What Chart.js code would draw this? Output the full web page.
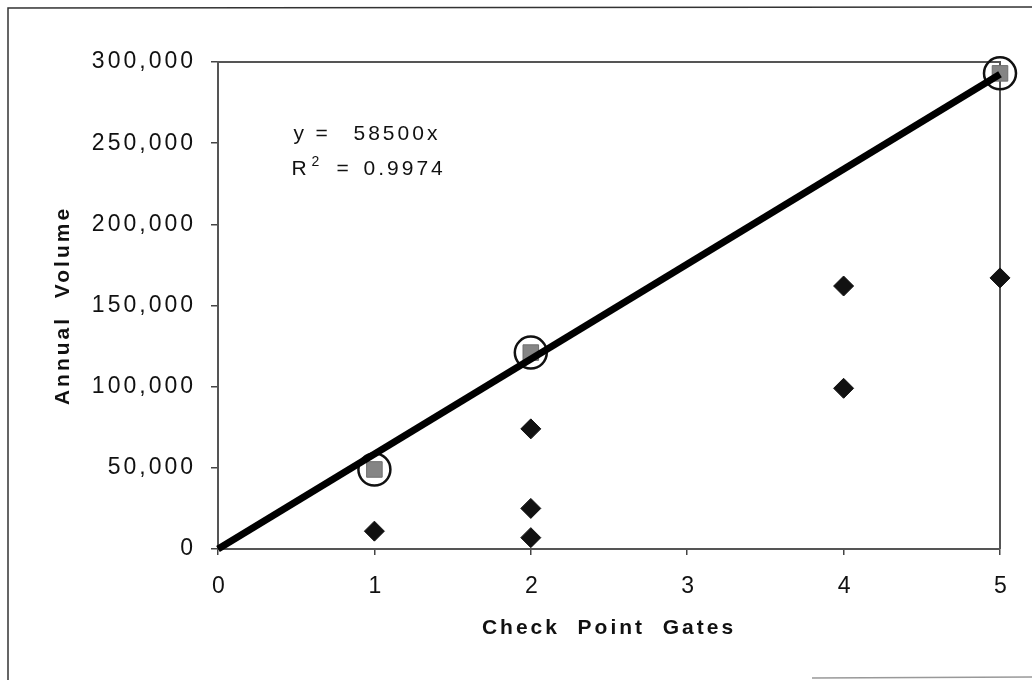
<!DOCTYPE html>
<html lang="en">
<head>
<meta charset="UTF-8">
<title>Annual Volume vs Check Point Gates</title>
<script src="https://cdn.jsdelivr.net/npm/chart.js"></script>
<style>
  html, body { margin: 0; padding: 0; background: #fff; }
  .chart-box { width: 1032px; height: 680px; position: relative; }
</style>
</head>
<body>
<div class="chart-box"><canvas id="gatesChart"></canvas></div>
<script>
// observed sites
const gates = [1, 2, 2, 2, 4, 4, 5];
const volumes = [11000, 74000, 25000, 7000, 162000, 99000, 167000];

// sites used for the fit (circled)
const fitGates = [1, 2, 5];
const fitVolumes = [49000, 121000, 293000];

// trend line y = 58500x
const trendGates = [0, 5];
const trendVolumes = [0, 292500];

const yTickValues = [0, 50000, 100000, 150000, 200000, 250000, 300000];
const yTickLabels = ['0', '50,000', '100,000', '150,000', '200,000', '250,000', '300,000'];

const FONT = '"Liberation Sans", Arial, Helvetica, sans-serif';
const ink = '#111';

const toPoints = (xs, ys) => xs.map((x, i) => ({ x: x, y: ys[i] }));

// border, outer frame, letter spacing and the equation text
const scanPlugin = {
    id: 'scanPlugin',
    beforeDraw(chart) {
        chart.ctx.letterSpacing = '3px';
    },
    beforeDatasetsDraw(chart) {
        const { ctx, chartArea: a } = chart;
        ctx.save();
        ctx.strokeStyle = '#555';
        ctx.lineWidth = 2;
        ctx.beginPath();
        ctx.moveTo(a.left, a.top);
        ctx.lineTo(a.right, a.top);
        ctx.lineTo(a.right, a.bottom);
        ctx.stroke();

        // page frame from the scan
        ctx.strokeStyle = '#333';
        ctx.lineWidth = 1.5;
        ctx.beginPath();
        ctx.moveTo(8, 680);
        ctx.lineTo(8, 8);
        ctx.lineTo(1032, 7);
        ctx.stroke();
        ctx.strokeStyle = '#999';
        ctx.beginPath();
        ctx.moveTo(812, 678);
        ctx.lineTo(1032, 677);
        ctx.stroke();
        ctx.restore();
    },
    afterDraw(chart) {
        const { ctx, scales } = chart;
        const x0 = scales.x.getPixelForValue(0.47);
        const y1 = scales.y.getPixelForValue(252000);
        const y2 = scales.y.getPixelForValue(230500);
        ctx.save();
        ctx.letterSpacing = '3px';
        ctx.fillStyle = ink;
        ctx.textBaseline = 'alphabetic';
        ctx.textAlign = 'left';
        ctx.font = '21px ' + FONT;
        ctx.fillText('y', x0 + 2, y1);
        ctx.fillText('=', x0 + 24, y1);
        ctx.fillText('58500x', x0 + 62, y1);
        ctx.fillText('R', x0, y2);
        ctx.fillText('=', x0 + 45, y2);
        ctx.fillText('0.9974', x0 + 72, y2);
        ctx.font = '14px ' + FONT;
        ctx.fillText('2', x0 + 20, y2 - 9);
        ctx.restore();
    }
};

const ctx = document.getElementById('gatesChart').getContext('2d');

const chart = new Chart(ctx, {
    type: 'scatter',
    data: {
        datasets: [
            {
                label: 'Trend',
                type: 'line',
                data: toPoints(trendGates, trendVolumes),
                borderColor: '#000',
                borderWidth: 7,
                pointRadius: 0,
                fill: false,
                clip: false
            },
            {
                label: 'Fit circles',
                data: toPoints(fitGates, fitVolumes),
                pointStyle: 'circle',
                pointRadius: 16,
                backgroundColor: 'rgba(0,0,0,0)',
                borderColor: '#111',
                borderWidth: 2.5,
                clip: false
            },
            {
                label: 'Fit sites',
                data: toPoints(fitGates, fitVolumes),
                pointStyle: 'rect',
                pointRadius: 11,
                backgroundColor: '#858585',
                borderColor: '#6f6f6f',
                borderWidth: 1,
                clip: false
            },
            {
                label: 'Sites',
                data: toPoints(gates, volumes),
                pointStyle: 'rectRot',
                pointRadius: 10,
                backgroundColor: '#111',
                borderColor: '#111',
                borderWidth: 1,
                clip: false
            }
        ]
    },
    options: {
        responsive: true,
        maintainAspectRatio: false,
        animation: false,
        layout: { padding: { top: 62, right: 32, bottom: 0, left: 0 } },
        plugins: {
            legend: { display: false },
            tooltip: { enabled: false }
        },
        scales: {
            x: {
                type: 'linear',
                min: 0,
                max: 5,
                afterFit(scale) { scale.height = 131; },
                ticks: {
                    stepSize: 1,
                    color: ink,
                    padding: 18,
                    labelOffset: 2,
                    font: { size: 23, family: FONT }
                },
                grid: { drawOnChartArea: false, color: '#444', lineWidth: 1.5, tickLength: 6 },
                border: { color: '#555', width: 2 },
                title: {
                    display: true,
                    text: 'Check  Point  Gates',
                    color: ink,
                    font: { size: 21, weight: 'bold', family: FONT },
                    padding: { top: 39, bottom: 39 }
                }
            },
            y: {
                type: 'linear',
                min: 0,
                max: 300000,
                afterFit(scale) { scale.width = 218; },
                afterBuildTicks(scale) {
                    scale.ticks = yTickValues.map(v => ({ value: v }));
                },
                ticks: {
                    color: ink,
                    padding: 15,
                    font: { size: 23, family: FONT },
                    callback: (value) => yTickLabels[yTickValues.indexOf(value)]
                },
                grid: { drawOnChartArea: false, color: '#444', lineWidth: 1.5, tickLength: 7 },
                border: { color: '#555', width: 2 },
                title: {
                    display: true,
                    text: 'Annual  Volume',
                    color: ink,
                    font: { size: 21, weight: 'bold', family: FONT },
                    padding: { top: 51, bottom: 51 }
                }
            }
        }
    },
    plugins: [scanPlugin]
});
</script>
</body>
</html>
